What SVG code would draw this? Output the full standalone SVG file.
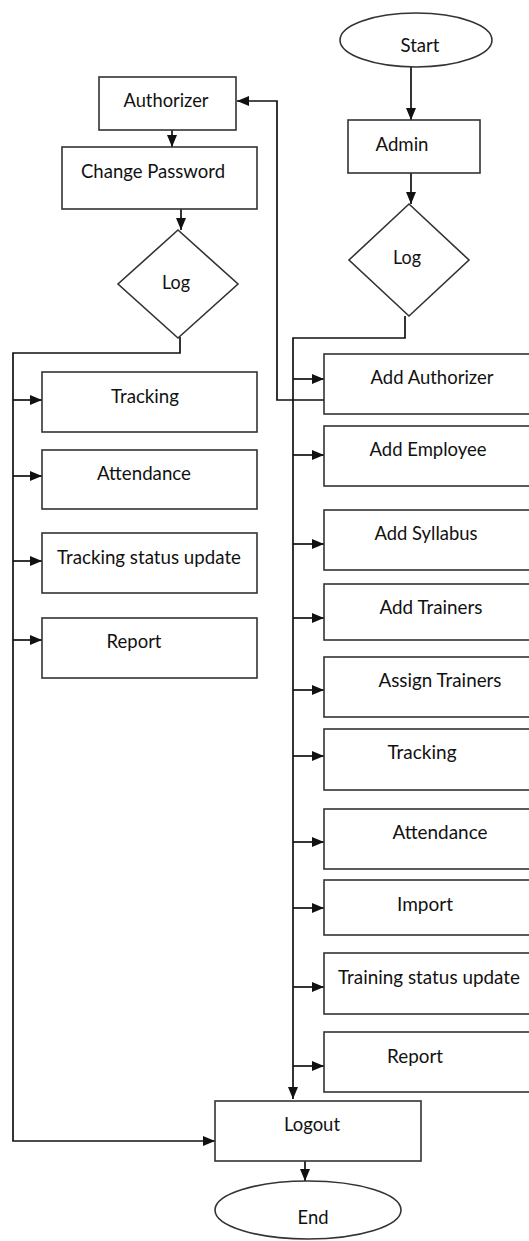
<svg xmlns="http://www.w3.org/2000/svg" width="529" height="1241" viewBox="0 0 529 1241">
<style>
.box{fill:#fff;stroke:#333;stroke-width:1.6}
.t{font-family:Lato,"Open Sans","Liberation Sans",sans-serif;font-size:19px;fill:#111;text-anchor:middle}
.c{fill:none;stroke:#111;stroke-width:1.7}
</style>
<defs>
<marker id="ah" markerUnits="userSpaceOnUse" markerWidth="12" markerHeight="10" refX="12" refY="5" orient="auto">
<path d="M0,0 L12,5 L0,10 z" fill="#111"/>
</marker>
</defs>
<rect width="529" height="1241" fill="#fff"/>
<g id="connectors">
<path class="c" d="M411,67 V120" marker-end="url(#ah)"/>
<path class="c" d="M411,173 V204" marker-end="url(#ah)"/>
<path class="c" d="M172,130 V147" marker-end="url(#ah)"/>
<path class="c" d="M181,209 V230" marker-end="url(#ah)"/>
<path class="c" d="M180,337 V353 H13 V1141 H215" marker-end="url(#ah)"/>
<path class="c" d="M13,400 H42" marker-end="url(#ah)"/>
<path class="c" d="M13,476 H42" marker-end="url(#ah)"/>
<path class="c" d="M13,561 H42" marker-end="url(#ah)"/>
<path class="c" d="M13,640 H42" marker-end="url(#ah)"/>
<path class="c" d="M405,316 V338 H293 V1099" marker-end="url(#ah)"/>
<path class="c" d="M293,379 H324" marker-end="url(#ah)"/>
<path class="c" d="M293,455 H324" marker-end="url(#ah)"/>
<path class="c" d="M293,544 H324" marker-end="url(#ah)"/>
<path class="c" d="M293,618 H324" marker-end="url(#ah)"/>
<path class="c" d="M293,690 H324" marker-end="url(#ah)"/>
<path class="c" d="M293,756 H324" marker-end="url(#ah)"/>
<path class="c" d="M293,842 H324" marker-end="url(#ah)"/>
<path class="c" d="M293,908 H324" marker-end="url(#ah)"/>
<path class="c" d="M293,987 H324" marker-end="url(#ah)"/>
<path class="c" d="M293,1066 H324" marker-end="url(#ah)"/>
<path class="c" d="M324,400 H277 V101 H237" marker-end="url(#ah)"/>
<path class="c" d="M305,1161 V1181" marker-end="url(#ah)"/>
</g>
<g id="start"><ellipse class="box" cx="416" cy="40" rx="76" ry="27"/><text class="t" x="420" y="52" textLength="39" lengthAdjust="spacingAndGlyphs">Start</text></g>
<g id="admin"><rect class="box" x="348" y="120" width="132" height="53"/><text class="t" x="402" y="151" textLength="53" lengthAdjust="spacingAndGlyphs">Admin</text></g>
<g id="log-admin"><polygon class="box" points="409,204 469,260 409,316 349,260"/><text class="t" x="407" y="264" textLength="28" lengthAdjust="spacingAndGlyphs">Log</text></g>
<g id="authorizer"><rect class="box" x="99" y="77" width="137" height="53"/><text class="t" x="166" y="107" textLength="85" lengthAdjust="spacingAndGlyphs">Authorizer</text></g>
<g id="change-password"><rect class="box" x="62" y="147" width="195" height="62"/><text class="t" x="153" y="178" textLength="144" lengthAdjust="spacingAndGlyphs">Change Password</text></g>
<g id="log-authorizer"><polygon class="box" points="178,230 238,284 178,338 118,284"/><text class="t" x="176" y="289" textLength="28" lengthAdjust="spacingAndGlyphs">Log</text></g>
<g id="auth-tracking"><rect class="box" x="42" y="372" width="215" height="60"/><text class="t" x="145" y="403" textLength="68" lengthAdjust="spacingAndGlyphs">Tracking</text></g>
<g id="auth-attendance"><rect class="box" x="42" y="450" width="215" height="59"/><text class="t" x="144" y="480" textLength="94" lengthAdjust="spacingAndGlyphs">Attendance</text></g>
<g id="auth-tracking-status"><rect class="box" x="42" y="533" width="215" height="60"/><text class="t" x="149" y="564" textLength="184" lengthAdjust="spacingAndGlyphs">Tracking status update</text></g>
<g id="auth-report"><rect class="box" x="42" y="618" width="215" height="60"/><text class="t" x="134" y="648" textLength="55" lengthAdjust="spacingAndGlyphs">Report</text></g>
<g id="add-authorizer"><rect class="box" x="324" y="354" width="215" height="60"/><text class="t" x="432" y="384" textLength="123" lengthAdjust="spacingAndGlyphs">Add Authorizer</text></g>
<g id="add-employee"><rect class="box" x="324" y="426" width="215" height="60"/><text class="t" x="428" y="456" textLength="117" lengthAdjust="spacingAndGlyphs">Add Employee</text></g>
<g id="add-syllabus"><rect class="box" x="324" y="510" width="215" height="60"/><text class="t" x="426" y="540" textLength="103" lengthAdjust="spacingAndGlyphs">Add Syllabus</text></g>
<g id="add-trainers"><rect class="box" x="324" y="584" width="215" height="56"/><text class="t" x="431" y="614" textLength="103" lengthAdjust="spacingAndGlyphs">Add Trainers</text></g>
<g id="assign-trainers"><rect class="box" x="324" y="657" width="215" height="60"/><text class="t" x="440" y="687" textLength="123" lengthAdjust="spacingAndGlyphs">Assign Trainers</text></g>
<g id="admin-tracking"><rect class="box" x="324" y="729" width="215" height="61"/><text class="t" x="422" y="759" textLength="69" lengthAdjust="spacingAndGlyphs">Tracking</text></g>
<g id="admin-attendance"><rect class="box" x="324" y="809" width="215" height="60"/><text class="t" x="440" y="839" textLength="95" lengthAdjust="spacingAndGlyphs">Attendance</text></g>
<g id="import"><rect class="box" x="324" y="880" width="215" height="55"/><text class="t" x="425" y="911" textLength="56" lengthAdjust="spacingAndGlyphs">Import</text></g>
<g id="training-status"><rect class="box" x="324" y="953" width="215" height="61"/><text class="t" x="429" y="984" textLength="182" lengthAdjust="spacingAndGlyphs">Training status update</text></g>
<g id="admin-report"><rect class="box" x="324" y="1032" width="215" height="60"/><text class="t" x="415" y="1063" textLength="56" lengthAdjust="spacingAndGlyphs">Report</text></g>
<g id="logout"><rect class="box" x="215" y="1101" width="206" height="60"/><text class="t" x="312" y="1131" textLength="56" lengthAdjust="spacingAndGlyphs">Logout</text></g>
<g id="end"><ellipse class="box" cx="308" cy="1210" rx="93" ry="29"/><text class="t" x="313" y="1224" textLength="31" lengthAdjust="spacingAndGlyphs">End</text></g>
</svg>
